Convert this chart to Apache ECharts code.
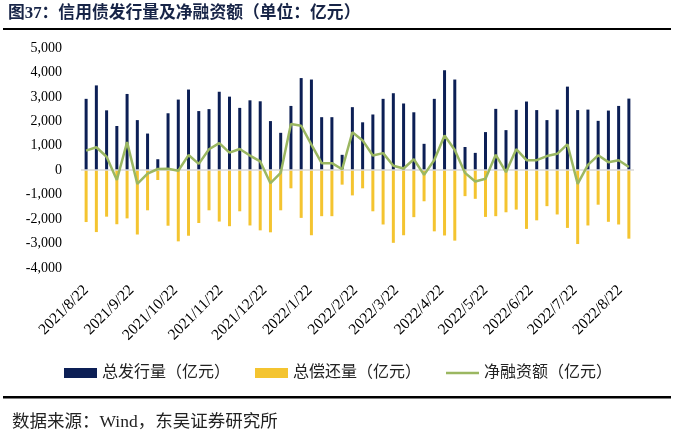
<!DOCTYPE html>
<html>
<head>
<meta charset="utf-8">
<script src="https://cdn.jsdelivr.net/npm/echarts@6/dist/echarts.min.js"></script>
<style>
html,body{margin:0;padding:0;background:#fff;}
#chart{width:676px;height:442px;}
</style>
</head>
<body>
<div id="chart"></div>
<script>
// weekly dates
var dates = [
'2021/8/22','2021/8/29','2021/9/5','2021/9/12','2021/9/19','2021/9/26','2021/10/3','2021/10/10','2021/10/17','2021/10/24',
'2021/10/31','2021/11/7','2021/11/14','2021/11/21','2021/11/28','2021/12/5','2021/12/12','2021/12/19','2021/12/26',
'2022/1/2','2022/1/9','2022/1/16','2022/1/23','2022/1/30','2022/2/6','2022/2/13','2022/2/20','2022/2/27','2022/3/6',
'2022/3/13','2022/3/20','2022/3/27','2022/4/3','2022/4/10','2022/4/17','2022/4/24','2022/5/1','2022/5/8','2022/5/15',
'2022/5/22','2022/5/29','2022/6/5','2022/6/12','2022/6/19','2022/6/26','2022/7/3','2022/7/10','2022/7/17','2022/7/24',
'2022/7/31','2022/8/7','2022/8/14','2022/8/21','2022/8/28'
];
// 总发行量（亿元）
var issuance = [
2920,3470,2450,1810,3120,2050,1500,450,2330,2890,
3300,2420,2500,3210,3010,2550,2860,2820,2010,
1530,2630,3770,3710,2170,2170,630,2580,1960,2280,
2920,3150,2730,2370,1080,2920,4090,3710,950,710,
1560,2510,1640,2470,2810,2460,2050,2480,3420,2460,
2480,2020,2440,2630,2930
];
// 总偿还量（亿元）
var repayment = [
-2120,-2530,-1900,-2210,-1970,-2630,-1640,-400,-2270,-2910,
-2680,-2160,-1640,-2100,-2290,-1680,-2260,-2460,-2540,
-1640,-740,-1950,-2660,-1880,-1880,-590,-1030,-740,-1680,
-2220,-2970,-2660,-1920,-1270,-2500,-2670,-2880,-1060,-1170,
-1910,-1880,-1720,-1610,-2400,-2050,-1470,-1810,-2360,-3020,
-2260,-1410,-2110,-2220,-2800
];
// 净融资额（亿元）
var netFinancing = [
800,940,550,-400,1150,-560,-140,50,60,-20,
620,260,860,1110,720,870,600,360,-530,
-110,1890,1820,1050,290,290,40,1550,1220,600,
700,180,70,450,-190,420,1420,830,-110,-460,
-350,630,-80,860,410,410,580,670,1060,-560,
220,610,330,410,130
];
var tickLabels = ['2021/8/22','2021/9/22','2021/10/22','2021/11/22','2021/12/22','2022/1/22','2022/2/22',
'2022/3/22','2022/4/22','2022/5/22','2022/6/22','2022/7/22','2022/8/22'];
var seriesNames = ['总发行量（亿元）','总偿还量（亿元）','净融资额（亿元）'];
var titleText = '图37：信用债发行量及净融资额（单位：亿元）';
var sourceText = '数据来源：Wind，东吴证券研究所';

var DAY = 86400000;
function parseDate(s){ var p = s.split('/'); return Date.UTC(+p[0], +p[1]-1, +p[2]); }
var t0 = parseDate(dates[0]);
function dayOf(s){ return Math.round((parseDate(s) - t0) / DAY); }
var labelMap = {};
var tickValues = tickLabels.map(function(s){ var d = dayOf(s); labelMap[d] = s; return d; });
var xMin = -3.5;
var xMax = dayOf(dates[dates.length-1]) + 3.5;

function pairs(arr){ return arr.map(function(v,i){ return [dayOf(dates[i]), v]; }); }

var serif = '"Liberation Serif","Times New Roman",serif';
var cjk = '"Liberation Serif","Noto Sans CJK SC",serif';
var green = '#9bb761';

var chart = echarts.init(document.getElementById('chart'), null, {renderer:'canvas'});
chart.setOption({
  animation:false,
  backgroundColor:'#ffffff',
  grid:{left:81, right:42, top:48, bottom:174, containLabel:false},
  legend:{
    top:360, left:'center', itemGap:25, itemWidth:33, itemHeight:10,
    textStyle:{fontFamily:cjk, fontSize:16, color:'#222'},
    data:[{name:seriesNames[0], icon:'rect'},{name:seriesNames[1], icon:'rect'},
          {name:seriesNames[2], icon:'path://M0,0 L33,0 L33,2.5 L0,2.5 Z', itemStyle:{color:green}}]
  },
  xAxis:{
    type:'value', min:xMin, max:xMax,
    axisLine:{show:false}, axisTick:{show:false}, splitLine:{show:false},
    axisLabel:{
      customValues:tickValues, rotate:45, margin:20,
      showMinLabel:true, showMaxLabel:true,
      fontFamily:serif, fontSize:15.5, color:'#000',
      formatter:function(v){ return labelMap[Math.round(v)] || ''; }
    }
  },
  yAxis:{
    type:'value', min:-4000, max:5000, interval:1000,
    axisLine:{show:false}, axisTick:{show:false}, splitLine:{show:false},
    axisLabel:{margin:19, fontFamily:serif, fontSize:14, color:'#000',
      formatter:function(v){ return v.toLocaleString('en-US'); }}
  },
  series:[
    {name:seriesNames[0], type:'bar', data:pairs(issuance), barWidth:3, barGap:'-100%',
     itemStyle:{color:'#0c1f55'},
     markLine:{silent:true, symbol:'none', label:{show:false},
       lineStyle:{color:'#d9d9d9', width:1.5, type:'solid'}, data:[{yAxis:0}]}},
    {name:seriesNames[1], type:'bar', data:pairs(repayment), barWidth:3, barGap:'-100%',
     itemStyle:{color:'#f4c430'}},
    {name:seriesNames[2], type:'line', data:pairs(netFinancing), symbol:'none', showSymbol:false,
     lineStyle:{color:green, width:2.5}, itemStyle:{color:green}, z:5}
  ],
  graphic:[
    {type:'text', left:8, top:5, style:{text:titleText, fontFamily:'"Liberation Serif","Noto Sans CJK SC",serif', fontWeight:'bold', fontSize:16.8, fill:'#172447'}},
    {type:'rect', shape:{x:3, y:28, width:668, height:2}, style:{fill:'#000'}},
    {type:'rect', shape:{x:3, y:396, width:668, height:2.5}, style:{fill:'#000'}},
    {type:'text', left:12, top:414, style:{text:sourceText, fontFamily:cjk, fontSize:17.5, fill:'#222'}}
  ]
});
</script>
</body>
</html>
